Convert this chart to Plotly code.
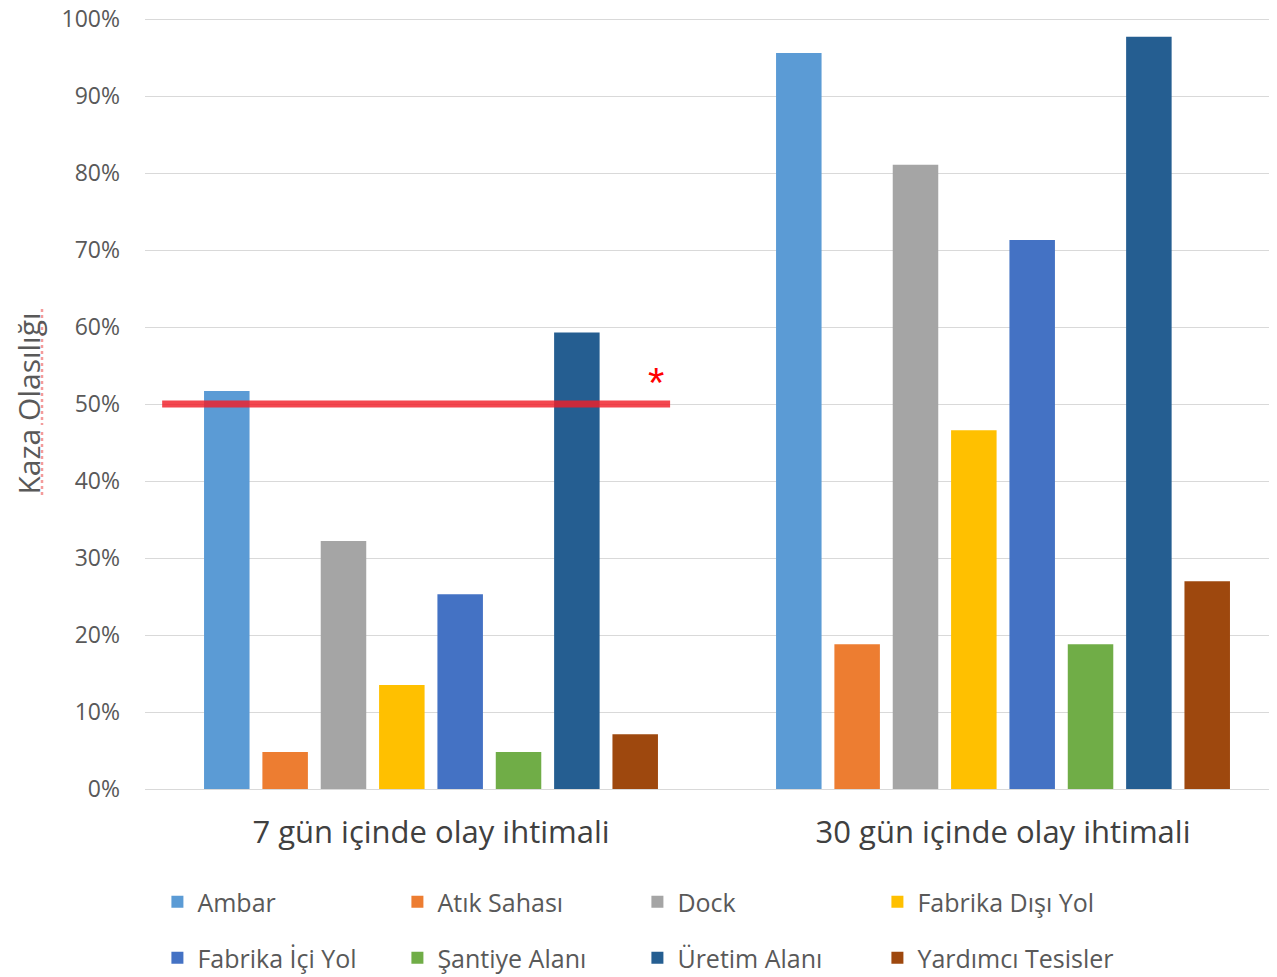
import plotly.graph_objects as go

categories = ["7 gün içinde olay ihtimali", "30 gün içinde olay ihtimali"]
series_names = ["Ambar", "Atık Sahası", "Dock", "Fabrika Dışı Yol",
                "Fabrika İçi Yol", "Şantiye Alanı", "Üretim Alanı", "Yardımcı Tesisler"]
ambar = [0.517, 0.956]
atik_sahasi = [0.048, 0.188]
dock = [0.322, 0.811]
fabrika_disi_yol = [0.135, 0.466]
fabrika_ici_yol = [0.253, 0.713]
santiye_alani = [0.048, 0.188]
uretim_alani = [0.593, 0.977]
yardimci_tesisler = [0.071, 0.270]
series_values = [ambar, atik_sahasi, dock, fabrika_disi_yol,
                 fabrika_ici_yol, santiye_alani, uretim_alani, yardimci_tesisler]
colors = ["#5B9BD5", "#ED7D31", "#A5A5A5", "#FFC000",
          "#4472C4", "#70AD47", "#255E91", "#9E480E"]
threshold = 0.5
y_ticks = [i / 10 for i in range(11)]
y_tick_labels = [f"{i*10}%" for i in range(11)]

FONT = "'Open Sans', 'Noto Sans', sans-serif"
W, H = 1277, 977
OFF = 8  # page body margin

fig = go.Figure()
for i, (name, vals, col) in enumerate(zip(series_names, series_values, colors)):
    fig.add_trace(go.Bar(
        x=categories, y=vals, name=name, marker_color=col,
        marker_line_width=0,
        legend="legend" if i < 4 else "legend2",
        hoverinfo="skip",
    ))

fig.add_shape(type="line", xref="x", yref="y",
              x0=-0.47, x1=0.418, y0=threshold, y1=threshold,
              line=dict(color="rgba(240,30,40,0.82)", width=7))
fig.add_annotation(x=0.393, y=threshold, xref="x", yref="y", text="*",
                   showarrow=False, yshift=22,
                   font=dict(color="#FF0000", size=42, family="Arial"))

# spell-check style underline next to the axis title
for y0, y1 in [(309, 425), (432, 497)]:
    fig.add_shape(type="line", xref="paper", yref="paper",
                  x0=-(145 - 42) / 1132, x1=-(145 - 42) / 1132,
                  y0=(789 - y0) / 771, y1=(789 - y1) / 771,
                  line=dict(color="rgba(235,90,90,0.6)", width=2.5, dash="dot"))

legend_common = dict(orientation="h", entrywidth=195, entrywidthmode="pixels",
                     font=dict(family=FONT, size=25, color="#595959"),
                     xref="container", yref="container", xanchor="left",
                     yanchor="middle", bgcolor="rgba(0,0,0,0)",
                     itemwidth=30)

fig.update_layout(
    width=W, height=H,
    margin=dict(l=145 - OFF, r=OFF, t=18 - OFF, b=H - (789 - OFF), autoexpand=False),
    paper_bgcolor="white", plot_bgcolor="white",
    barmode="group", bargap=0.184, bargroupgap=0.22,
    font=dict(family=FONT, color="#595959"),
    legend=dict(**legend_common, x=0.117, y=1 - (902 - OFF) / H),
    legend2=dict(**legend_common, x=0.117, y=1 - (958 - OFF) / H),
    xaxis=dict(range=[-0.5, 1.479], showgrid=False, showline=False,
               automargin=False,
               ticks="", tickfont=dict(family=FONT, size=31, color="#404040"),
               ticklabelstandoff=22),
    yaxis=dict(range=[0, 1.0015], tickvals=y_ticks, ticktext=y_tick_labels,
               automargin=False, ticklabeloverflow="allow",
               showgrid=True, gridcolor="#D9D9D9", gridwidth=1,
               zeroline=True, zerolinecolor="#D9D9D9", zerolinewidth=1,
               showline=False, ticks="",
               tickfont=dict(family=FONT, size=23, color="#595959"),
               ticklabelstandoff=24,
               title=dict(text="Kaza Olasılığı", standoff=22,
                          font=dict(family=FONT, size=30, color="#595959"))),
)

fig.write_html("out.html")
